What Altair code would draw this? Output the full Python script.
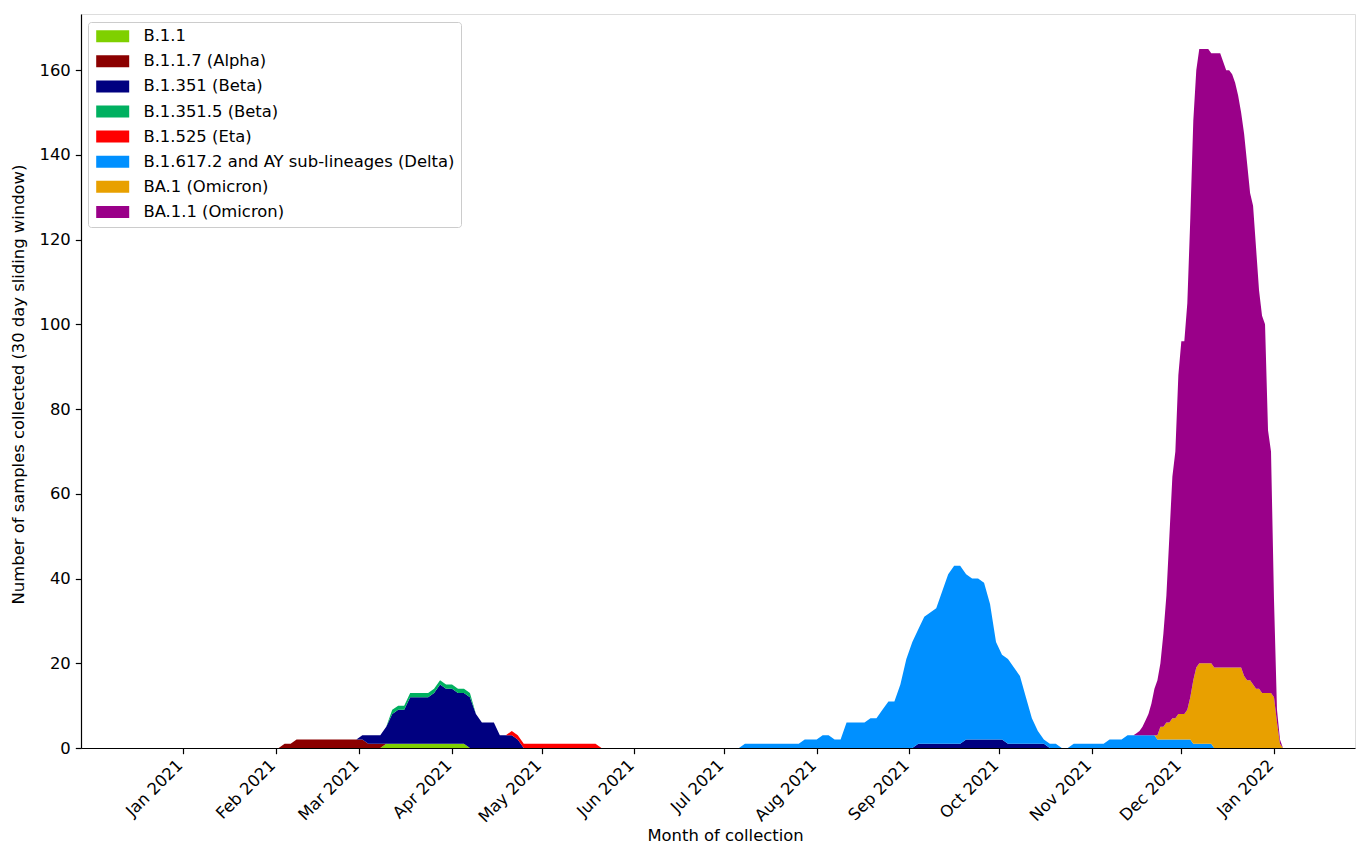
import altair as alt
import pandas as pd

# ---------------- data ----------------
SERIES_NAMES = [
    "B.1.1",
    "B.1.1.7 (Alpha)",
    "B.1.351 (Beta)",
    "B.1.351.5 (Beta)",
    "B.1.525 (Eta)",
    "B.1.617.2 and AY sub-lineages (Delta)",
    "BA.1 (Omicron)",
    "BA.1.1 (Omicron)",
]
SERIES_COLORS = ["#7FD000", "#8B0000", "#000080", "#00B060",
                 "#FF0000", "#0090FF", "#E8A000", "#9A0089"]

# sampling dates: every second day, then daily over the Omicron wave
GRID_2DAY = ("2021-01-29", "2021-11-13")
GRID_1DAY = ("2021-11-14", "2022-01-08")

# each series: list of (first date, values on the sampling grid)
B11 = [("2021-03-08", [0, 1, 1, 1, 1, 1, 1, 1, 1, 1, 1, 1, 1, 1, 1, 0])]
ALPHA = [("2021-01-31", [0, 0, 1, 1, 2, 2, 2, 2, 2, 2, 2, 2, 2, 2, 2, 2, 1, 1, 1, 0])]
BETA = [
    ("2021-02-26", [0, 0, 1, 2, 2, 2, 4, 7, 8, 8, 11, 11, 11, 11, 12, 14, 13, 13,
                    12, 12, 12, 8, 6, 6, 6, 3, 3, 3, 2, 0]),
    ("2021-09-02", [0, 1, 1, 1, 1, 1, 1, 1, 1, 2, 2, 2, 2, 2, 2, 2,
                    1, 1, 1, 1, 1, 1, 1, 0]),
]
B13515 = [("2021-03-10", [0, 1, 1, 1, 1, 1, 1, 1, 1, 1, 1, 1, 1, 1, 1, 0])]
ETA = [("2021-04-19", [0, 1, 1, 1, 1, 1, 1, 1, 1, 1, 1, 1, 1, 1, 1, 1, 0])]
DELTA = [
    ("2021-07-06", [0, 1, 1, 1, 1, 1, 1, 1, 1, 1, 1, 2, 2, 2, 3, 3, 2, 2, 6, 6, 6, 6,
                    7, 7, 9, 11, 11, 15, 21, 25, 27, 30, 31, 32, 36, 40, 42, 42, 39,
                    38, 38, 37, 32, 23, 20, 20, 18, 16, 11, 6, 3, 1, 1, 1, 0, 0,
                    1, 1, 1, 1, 1, 1, 2, 2, 2, 3]),
    ("2021-11-14", [3, 3, 3, 3, 3, 3, 3, 3, 3, 2, 2, 2, 2, 2, 2, 2, 2, 2, 2, 2, 2,
                    1, 1, 1, 1, 1, 1, 1, 0, 0]),
]
BA1 = [("2021-11-14", [0, 0, 0, 0, 0, 0, 0, 0, 0, 1, 3, 3, 4, 4, 5, 5, 6, 6, 6, 7,
                       10, 15, 18, 19, 19, 19, 19, 19, 19, 19, 19, 19, 19, 19, 19,
                       19, 19, 19, 17, 16, 16, 15, 14, 14, 13, 13, 13, 13, 12, 6,
                       1, 0])]
BA11 = [("2021-11-14", [0, 0, 0.5, 1, 2, 3.5, 5, 7.5, 11, 13, 15, 22, 30, 44, 57,
                        63, 80, 88, 88, 96, 113, 132, 141, 145, 145, 145, 145, 144,
                        145, 145, 145, 143, 141, 141, 140, 138, 135, 131, 128, 122,
                        115, 113, 104, 94, 89, 87, 62, 57, 23, 3, 1, 0])]

SERIES_DATA = [B11, ALPHA, BETA, B13515, ETA, DELTA, BA1, BA11]

Y_TICKS = [0, 20, 40, 60, 80, 100, 120, 140, 160]
X_TICKS = [(2021, m) for m in range(1, 13)] + [(2022, 1)]

# ---------------- table ----------------
grid = list(pd.date_range(GRID_2DAY[0], GRID_2DAY[1], freq="2D")) + \
       list(pd.date_range(GRID_1DAY[0], GRID_1DAY[1], freq="D"))
pos = {d: i for i, d in enumerate(grid)}

rows = []
for idx, (name, segs) in enumerate(zip(SERIES_NAMES, SERIES_DATA)):
    vals = [0.0] * len(grid)
    for start, values in segs:
        i0 = pos[pd.Timestamp(start)]
        for k, v in enumerate(values):
            vals[i0 + k] = v
    for d, v in zip(grid, vals):
        rows.append({"date": d.strftime("%Y-%m-%dT%H:%M:%S"), "series": name,
                     "value": v, "idx": idx})
df = pd.DataFrame(rows)

FONT = "DejaVu Sans"
FS = 16.4

x_axis = alt.Axis(
    values=[alt.DateTime(year=y, month=m, date=1) for y, m in X_TICKS],
    format="%b %Y", labelAngle=-45, labelAlign="right", labelBaseline="top",
    labelOffset=-9, labelPadding=3, tickSize=5.7, tickColor="black", tickWidth=1.2,
    domainColor="black", domainWidth=1.2, grid=False, labelOverlap=False,
    labelFont=FONT, labelFontSize=FS, labelColor="black", labelBound=False,
    labelFlush=False, titleFont=FONT, titleFontSize=FS, titleFontWeight="normal",
    titleColor="black", titleX=644, titleY=92, titleBaseline="alphabetic",
)
y_axis = alt.Axis(
    values=Y_TICKS, tickSize=5.7, tickColor="black", tickWidth=1.2,
    domainColor="black", domainWidth=1.2, grid=False, labelFont=FONT,
    labelFontSize=FS, labelColor="black", labelPadding=5, labelOverlap=False,
    titleFont=FONT, titleFontSize=FS, titleFontWeight="normal", titleColor="black",
    titleX=-63, titleY=370, titleBaseline="middle", titleAngle=-90,
)

chart = alt.Chart(df).mark_area(interpolate="linear", strokeWidth=0).encode(
    x=alt.X("date:T", title="Month of collection",
            scale=alt.Scale(domain=[alt.DateTime(year=2020, month=11, date=27, hours=21),
                                    alt.DateTime(year=2022, month=1, date=28, hours=2,
                                                 minutes=24)]),
            axis=x_axis),
    y=alt.Y("value:Q", stack="zero",
            title="Number of samples collected (30 day sliding window)",
            scale=alt.Scale(domain=[0, 173.25], nice=False, zero=True),
            axis=y_axis),
    color=alt.Color(
        "series:N",
        scale=alt.Scale(domain=SERIES_NAMES, range=SERIES_COLORS),
        legend=alt.Legend(
            title=None, orient="none", legendX=7, legendY=8,
            symbolType="M-1,-1L4.5,-1L4.5,1L-1,1Z", symbolSize=144,
            symbolStrokeWidth=0, symbolOpacity=1,
            labelFont=FONT, labelFontSize=FS, labelColor="black", labelOffset=33,
            labelLimit=700, rowPadding=8.1, padding=6, strokeColor="#cccccc",
            fillColor="rgba(255,255,255,0.8)", cornerRadius=3,
        ),
    ),
    order=alt.Order("idx:Q", sort="ascending"),
).properties(
    width=1274, height=734,
    padding={"left": 73, "top": 6, "right": 1, "bottom": 96},
    autosize=alt.AutoSizeParams(type="none"),
).configure_view(stroke="black", strokeWidth=1.2).configure(font=FONT)

chart.save("out.html", embed_options={"renderer": "svg", "actions": False})
